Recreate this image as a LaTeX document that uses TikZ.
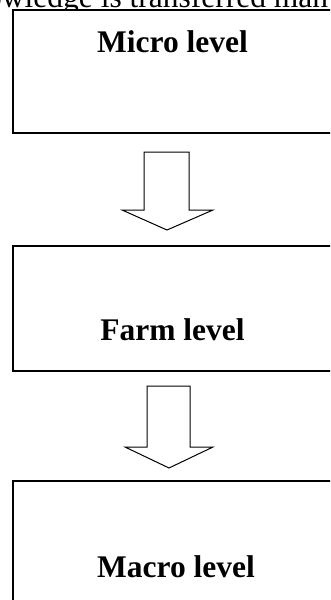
\documentclass[tikz,border=0pt]{standalone}
\usepackage{fontspec}
\setmainfont{Liberation Serif}
\begin{document}
\begin{tikzpicture}[x=1pt,y=-1pt,
  levelbox/.style={draw=black,line width=1.6pt,fill=white},
  leveltext/.style={font=\fontsize{31.5}{36}\selectfont\bfseries,anchor=base,inner sep=0pt},
  blockarrow/.style={draw=black,line width=1pt,fill=white,line join=miter}]
\useasboundingbox (0,0) rectangle (330,600);
\clip (0,0) rectangle (330,600);

% running text above the chart
\node[anchor=base west,inner sep=0pt,font=\fontsize{31.5}{36}\selectfont] (caption) at (-14,7) {owledge is transferred man};

% the three level boxes
\draw[levelbox] (13,10) rectangle (345,133);
\coordinate (micro-s) at (167,133);
\node[leveltext] (micro) at (172.5,52) {Micro level};

\draw[levelbox] (13,246) rectangle (345,371);
\coordinate (farm-n) at (167,246);
\coordinate (farm-s) at (169,371);
\node[leveltext] (farm) at (172.5,340) {Farm level};

\draw[levelbox] (13,481) rectangle (345,620);
\coordinate (macro-n) at (169,481);
\node[leveltext] (macro) at (176,577) {Macro level};

% block arrows between the levels
\draw[blockarrow] (144,152) -- (189,152) -- (189,210) -- (213,210) -- (167,230)
  -- (122,210) -- (144,210) -- cycle;
\draw[blockarrow] (147,386) -- (190,386) -- (190,447) -- (213,447) -- (169,468)
  -- (125,447) -- (147,447) -- cycle;
\end{tikzpicture}
\end{document}
